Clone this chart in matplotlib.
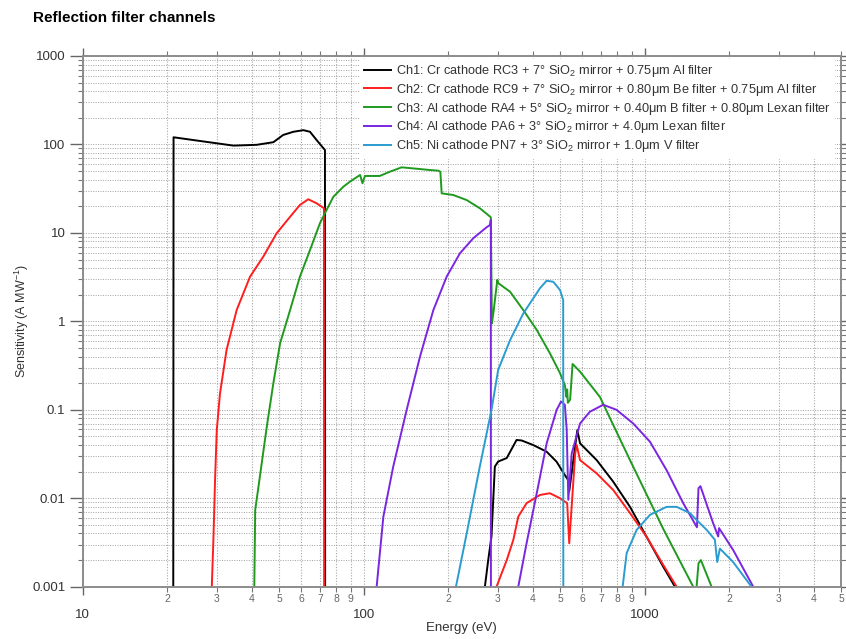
import numpy as np
import matplotlib.pyplot as plt
from matplotlib.ticker import LogLocator, FuncFormatter, NullFormatter

plt.rcParams['font.family'] = ['Liberation Sans', 'DejaVu Sans']
plt.rcParams['mathtext.fontset'] = 'custom'
plt.rcParams['mathtext.rm'] = 'Liberation Sans'
plt.rcParams['mathtext.it'] = 'Liberation Sans:italic'
plt.rcParams['mathtext.bf'] = 'Liberation Sans:bold'

nan = np.nan

# energies (eV) and sensitivities (A/MW), nan splits segments
e_ch1 = [21.0, 21.05, 24.8, 30.0, 34.4, 41.6, 47.7, 51.7, 56.2, 61.0, 64.4, 68.0, 72.8, 72.9, nan,
         270, 277.5, 285, 293, 301, 323, 350, 365, 401, 448, 486, 520, 535, 539, 576, 589,
         675, 773, 887, 1016, 1165, 1282]
s_ch1 = [0.001, 120.5, 112, 103, 97, 99, 106, 128, 139, 145, 139, 112, 86.5, 0.001, nan,
         0.001, 0.002, 0.0037, 0.0228, 0.026, 0.0285, 0.0456, 0.045, 0.040, 0.0336, 0.0259, 0.0183,
         0.016, 0.012, 0.059, 0.0418, 0.027, 0.0154, 0.008, 0.00367, 0.00168, 0.001]

e_ch2 = [28.8, 29.2, 29.6, 30.0, 30.8, 32.5, 35.3, 39.4, 43.9, 49.0, 54.7, 59.3, 63.5, 68.0, 72.2, 72.3, nan,
         297, 323, 341, 355, 380, 424, 460, 500, 530, 539, 566, 573, 589, 675, 773, 887, 1016, 1165, 1300]
s_ch2 = [0.001, 0.00367, 0.0175, 0.059, 0.153, 0.474, 1.34, 3.2, 5.38, 9.9, 15.2, 20.7, 24, 21.6, 19, 0.001, nan,
         0.001, 0.002, 0.0034, 0.0062, 0.0088, 0.0109, 0.0114, 0.01, 0.0088, 0.0031, 0.032, 0.04, 0.027,
         0.0191, 0.0124, 0.0068, 0.00367, 0.00176, 0.001]

e_ch3 = [40.8, 41.1, 42.7, 45.2, 47.7, 50.4, 54.7, 59.3, 64.4, 69.9, 72.8, 78.0, 84.6, 89.3, 97.1, 99.0,
         101, 114, 124, 136.5, 158.6, 172, 184.4, 187.5, 189.5, 208.5, 232.6, 259, 277.5, 283.5, 286,
         290, 299, 301, 332, 370, 413, 460, 500, 520, 527, 530, 533, 543, 554, 589, 693, 887, 1165, 1489, nan,
         1531, 1555, 1586, 1731]
s_ch3 = [0.001, 0.00736, 0.0175, 0.0645, 0.2, 0.565, 1.34, 3.2, 6.4, 12.9, 16.7, 25.6, 33.2, 37.9, 45.2, 36.4,
         44, 44, 49.2, 55.1, 52.7, 51.4, 50.5, 49, 28, 26.8, 23.5, 19, 15.9, 15, 0.95,
         1.3, 2.95, 2.71, 2.16, 1.34, 0.80, 0.436, 0.259, 0.19, 0.14, 0.17, 0.12, 0.13, 0.33, 0.27, 0.14,
         0.027, 0.0045, 0.001, nan,
         0.001, 0.00184, 0.002, 0.001]

e_ch4 = [111.2, 117.5, 127.4, 142.2, 158.6, 177, 197.4, 220, 245.5, 274, 281.7, 283.5, 283.7, nan,
         355, 380, 413, 448, 486, 504, 520, 528, 535, 550, 589, 638, 712, 794, 911, 1045, 1197, 1372,
         1535, 1555, 1580, 1754, 1828, 1840, 2066, 2435]
s_ch4 = [0.001, 0.0062, 0.0228, 0.0995, 0.398, 1.34, 3.2, 5.87, 8.7, 11.6, 12.3, 14, 0.001, nan,
         0.001, 0.0031, 0.0114, 0.0418, 0.0995, 0.124, 0.114, 0.06, 0.0096, 0.032, 0.070, 0.095, 0.114,
         0.1, 0.070, 0.0435, 0.0208, 0.0088, 0.0047, 0.013, 0.0137, 0.0052, 0.0037, 0.0046, 0.0026, 0.001]

e_ch5 = [213, 232.6, 259, 285, 301, 332, 370, 424, 448, 473, 500, 513, 513.5, nan,
         835, 863, 937, 1045, 1197, 1300, 1449, 1531, 1662, 1778, 1813, 1853, 2066, 2400]
s_ch5 = [0.001, 0.004, 0.0228, 0.0995, 0.282, 0.615, 1.23, 2.37, 2.88, 2.8, 2.26, 1.74, 0.001, nan,
         0.001, 0.0024, 0.0044, 0.0065, 0.008, 0.008, 0.0068, 0.00568, 0.0044, 0.0034, 0.0019, 0.0027,
         0.0019, 0.001]

labels = [
    'Ch1: Cr cathode RC3 + 7\u00b0 SiO$_2$ mirror + 0.75\u03bcm Al filter',
    'Ch2: Cr cathode RC9 + 7\u00b0 SiO$_2$ mirror + 0.80\u03bcm Be filter + 0.75\u03bcm Al filter',
    'Ch3: Al cathode RA4 + 5\u00b0 SiO$_2$ mirror + 0.40\u03bcm B filter + 0.80\u03bcm Lexan filter',
    'Ch4: Al cathode PA6 + 3\u00b0 SiO$_2$ mirror + 4.0\u03bcm Lexan filter',
    'Ch5: Ni cathode PN7 + 3\u00b0 SiO$_2$ mirror + 1.0\u03bcm V filter',
]
colors = ['#000000', '#ff1e1e', '#1f9a1f', '#7a26e0', '#2b9cd0']

x_min, x_max = 10, 5000


def minor_label(v, pos):
    # single digit under each minor tick, like 2 ... 9
    if v < x_min or v > x_max * 1.001:
        return ''
    return '%d' % round(v / 10 ** np.floor(np.log10(v) + 1e-9))


fig = plt.figure(figsize=(8.46, 6.39), dpi=100)
ax = fig.add_axes([0.0978, 0.0818, 0.8963, 0.8306])

series = [(e_ch1, s_ch1), (e_ch2, s_ch2), (e_ch3, s_ch3), (e_ch4, s_ch4), (e_ch5, s_ch5)]
for (e, s), c, lab in zip(series, colors, labels):
    ax.plot(e, s, color=c, lw=1.4, label=lab)

ax.set_xscale('log')
ax.set_yscale('log')
ax.set_xlim(x_min, x_max)
ax.set_ylim(1e-3, 1e3)

ax.xaxis.set_major_locator(LogLocator(base=10, numticks=10))
ax.xaxis.set_minor_locator(LogLocator(base=10, subs=np.arange(2, 10), numticks=50))
ax.xaxis.set_major_formatter(FuncFormatter(lambda v, p: '%g' % v))
ax.xaxis.set_minor_formatter(FuncFormatter(minor_label))
ax.yaxis.set_major_locator(LogLocator(base=10, numticks=10))
ax.yaxis.set_minor_locator(LogLocator(base=10, subs=np.arange(2, 10), numticks=50))
ax.yaxis.set_major_formatter(FuncFormatter(lambda v, p: '%g' % v))
ax.yaxis.set_minor_formatter(NullFormatter())

ax.tick_params(axis='x', which='major', direction='out', length=6, width=1, pad=10,
               labelsize=9.5, top=True, color='#666666', labelcolor='#333333')
ax.tick_params(axis='x', which='minor', direction='out', length=3.5, width=0.8, pad=1.5,
               labelsize=7.5, top=True, color='#777777', labelcolor='#666666')
ax.tick_params(axis='y', which='major', direction='out', length=9.5, width=1, pad=3,
               labelsize=9.5, right=True, color='#666666', labelcolor='#333333')
ax.tick_params(axis='y', which='minor', direction='out', length=3.5, width=0.8,
               right=True, color='#777777')

ax.grid(True, which='both', axis='y', linestyle=(0, (1, 1.5)), color='#a0a0a0', lw=0.7)
ax.grid(True, which='both', axis='x', linestyle=(0, (1, 1.5)), color='#a8a8a8', lw=0.8)
ax.set_axisbelow(True)
for sp in ax.spines.values():
    sp.set_color('#8c8c8c')
    sp.set_linewidth(1.4)

leg = ax.legend(loc='upper left', bbox_to_anchor=(0.362, 1.0), fontsize=9.2, frameon=True,
                fancybox=False, edgecolor='none', facecolor='white', framealpha=1,
                handlelength=2.1, handletextpad=0.35, labelspacing=0.22, borderpad=0.35,
                borderaxespad=0.2)
for t in leg.get_texts():
    t.set_color('#333333')

fig.text(33 / 846, 1 - 18 / 639, 'Reflection filter channels', fontsize=11,
         fontweight='bold', va='center', ha='left')
fig.text(22 / 846, 0.4977, 'Sensitivity (A MW$^{-1}$)', rotation=90, fontsize=9,
         va='center', ha='center', color='#333333')
fig.text(0.545, 1 - 628 / 639, 'Energy (eV)', fontsize=9.5, va='center', ha='center',
         color='#333333')

fig.savefig('out.png', dpi=100)
